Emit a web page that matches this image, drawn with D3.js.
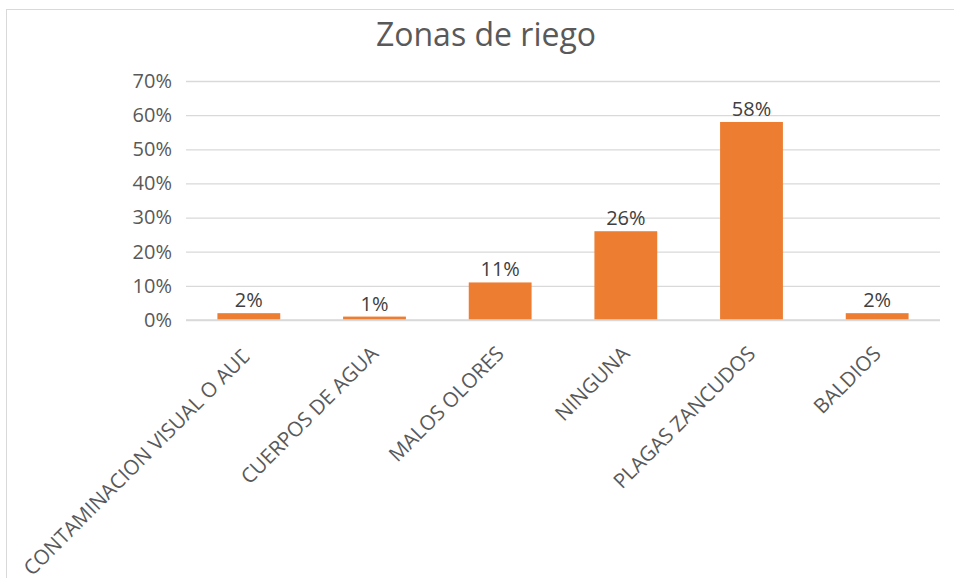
<!DOCTYPE html>
<html>
<head>
<meta charset="utf-8">
<script src="https://cdn.jsdelivr.net/npm/d3@7"></script>
<style>
  body { margin: 0; background: #fff; }
  svg { display: block; font-family: "Open Sans", sans-serif; }
</style>
</head>
<body>
<svg width="954" height="578"></svg>
<script>
// data
var categories = ["CONTAMINACION VISUAL O AUDITIVA", "CUERPOS DE AGUA", "MALOS OLORES", "NINGUNA", "PLAGAS ZANCUDOS", "BALDIOS"];
var axisLabels = ["CONTAMINACION VISUAL O AUD", "CUERPOS DE AGUA", "MALOS OLORES", "NINGUNA", "PLAGAS ZANCUDOS", "BALDIOS"];
var values = [0.02, 0.01, 0.11, 0.26, 0.58, 0.02];
var yTicks = [0, 0.1, 0.2, 0.3, 0.4, 0.5, 0.6, 0.7];

var svg = d3.select("svg"),
    width = +svg.attr("width"),
    height = +svg.attr("height");

var margin = {top: 81, right: 14, bottom: 258, left: 186};

// chart frame (only top and left edges fall inside the picture)
svg.append("rect")
    .attr("x", 6.5)
    .attr("y", 9.5)
    .attr("width", width + 20)
    .attr("height", height + 20)
    .attr("fill", "none")
    .attr("stroke", "#d9d9d9");

svg.append("text")
    .attr("x", 486)
    .attr("y", 46)
    .attr("text-anchor", "middle")
    .attr("fill", "#595959")
    .style("font-size", "32px")
    .text("Zonas de riego");

var x = d3.scaleBand()
    .domain(categories)
    .range([margin.left, width - margin.right])
    .paddingInner(0.5)
    .paddingOuter(0.25);

var y = d3.scaleLinear()
    .domain([0, 0.7])
    .range([height - margin.bottom, margin.top]);

var yAxis = d3.axisLeft(y)
    .tickValues(yTicks)
    .tickFormat(d3.format(".0%"))
    .tickSize(-(width - margin.left - margin.right))
    .tickPadding(14);

var gY = svg.append("g")
    .attr("transform", `translate(${margin.left},0)`)
    .call(yAxis)
    .attr("font-family", null)
    .attr("font-size", null);

gY.select(".domain").remove();
gY.selectAll(".tick line")
    .attr("stroke", "#d9d9d9")
    .attr("stroke-width", 1.3);
gY.selectAll(".tick text")
    .attr("fill", "#595959")
    .style("font-size", "20px");

svg.append("g")
    .selectAll("rect")
    .data(values)
    .join("rect")
    .attr("x", (d, i) => x(categories[i]))
    .attr("y", (d) => y(d))
    .attr("width", x.bandwidth())
    .attr("height", (d) => y(0) - y(d))
    .attr("fill", "#ed7d31");

svg.append("g")
    .selectAll("text")
    .data(values)
    .join("text")
    .attr("x", (d, i) => x(categories[i]) + x.bandwidth() / 2)
    .attr("y", (d) => y(d) - 6)
    .attr("text-anchor", "middle")
    .attr("fill", "#404040")
    .style("font-size", "20px")
    .text((d) => d3.format(".0%")(d));

// axis baseline
svg.append("line")
    .attr("x1", margin.left)
    .attr("x2", width - margin.right)
    .attr("y1", y(0))
    .attr("y2", y(0))
    .attr("stroke", "#d9d9d9")
    .attr("stroke-width", 1.3);

// the first label is clipped at its end, as in the original
svg.append("clipPath")
    .attr("id", "cut")
    .append("rect")
    .attr("x", -1000)
    .attr("y", -30)
    .attr("width", 995)
    .attr("height", 60);

svg.append("g")
    .selectAll("text")
    .data(categories)
    .join("text")
    .attr("transform", (d) => `translate(${x(d) + x.bandwidth() / 2},350) rotate(-45)`)
    .attr("text-anchor", "end")
    .attr("dy", "0.35em")
    .attr("fill", "#595959")
    .attr("clip-path", (d, i) => i === 0 ? "url(#cut)" : null)
    .style("font-size", "20.5px")
    .text((d, i) => axisLabels[i]);
</script>
</body>
</html>
